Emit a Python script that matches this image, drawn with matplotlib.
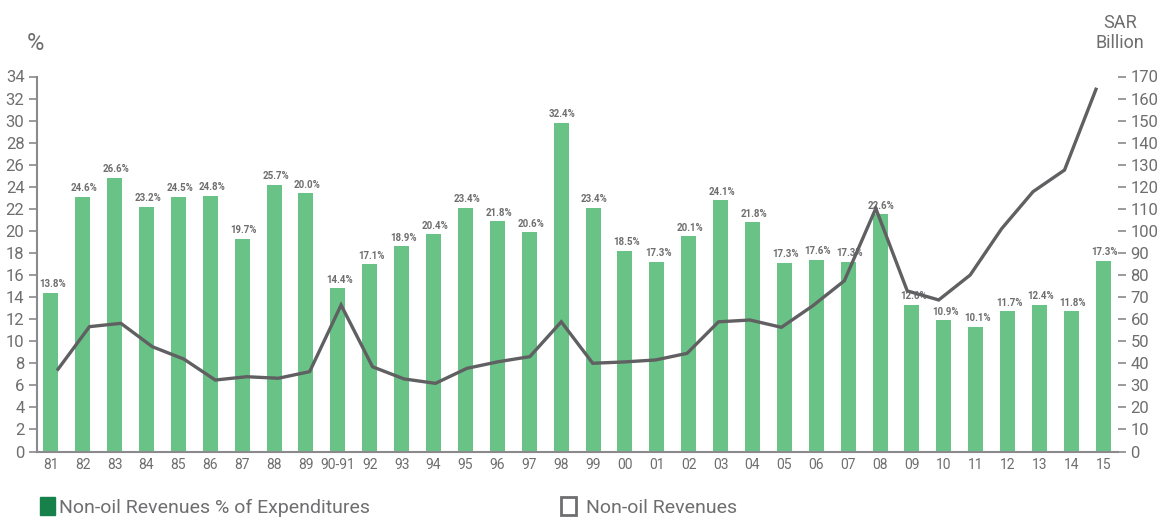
import matplotlib
matplotlib.use("Agg")
import matplotlib.pyplot as plt
from matplotlib.patches import Patch
import numpy as np

years = ["81", "82", "83", "84", "85", "86", "87", "88", "89", "90-91", "92", "93", "94",
         "95", "96", "97", "98", "99", "00", "01", "02", "03", "04", "05", "06", "07",
         "08", "09", "10", "11", "12", "13", "14", "15"]
bar_pct = [14.4, 23.1, 24.8, 22.2, 23.1, 23.2, 19.3, 24.2, 23.4, 14.8, 17.0, 18.6, 19.7,
           22.1, 20.9, 19.9, 29.8, 22.1, 18.2, 17.2, 19.5, 22.8, 20.8, 17.1, 17.4, 17.2,
           21.5, 13.3, 11.9, 11.3, 12.7, 13.3, 12.7, 17.3]
bar_labels = ["13.8%", "24.6%", "26.6%", "23.2%", "24.5%", "24.8%", "19.7%", "25.7%", "20.0%",
              "14.4%", "17.1%", "18.9%", "20.4%", "23.4%", "21.8%", "20.6%", "32.4%", "23.4%",
              "18.5%", "17.3%", "20.1%", "24.1%", "21.8%", "17.3%", "17.6%", "17.3%", "22.6%",
              "12.6%", "10.9%", "10.1%", "11.7%", "12.4%", "11.8%", "17.3%"]
nonoil_rev = [37.3, 56.6, 58.1, 47.5, 41.9, 32.4, 33.9, 33.2, 36.2, 66.4, 38.4, 32.9, 30.9,
              37.7, 40.7, 43.0, 58.8, 40.0, 40.6, 41.5, 44.5, 58.8, 59.6, 56.3, 66.1, 77.4,
              110.2, 72.8, 68.7, 80.0, 101.0, 117.8, 127.6, 164.2]

FONT = ["Roboto", "DejaVu Sans"]
plt.rcParams["font.family"] = FONT
GRAY = "#6e6e70"
AXC = "#8a8a8c"
BAR = "#69c387"
LINE = "#606062"

fig = plt.figure(figsize=(11.62, 5.21), dpi=100)
rect = [37 / 1162, 1 - 451.5 / 521, (1118 - 37) / 1162, (451.5 - 76.5) / 521]
ax = fig.add_axes(rect)
x = np.arange(len(years))
ax.bar(x, bar_pct, width=0.47, color=BAR, zorder=2)
ax.set_xlim(-0.433, len(years) - 1 + 0.46)
ax.set_ylim(0, 34)
ax.set_yticks(np.arange(0, 35, 2))
ax.set_xticks(x)
ax.set_xticklabels(years)
ax.tick_params(axis="x", length=0, pad=5, labelsize=10, labelcolor=GRAY)
ax.tick_params(axis="y", length=6, width=1.2, color=AXC, pad=3, labelsize=12, labelcolor=GRAY)
for s in ["top", "right"]:
    ax.spines[s].set_visible(False)
for s in ["left", "bottom"]:
    ax.spines[s].set_color(AXC)
    ax.spines[s].set_linewidth(1.5)

for xi, h, lab in zip(x, bar_pct, bar_labels):
    ax.annotate(lab, (xi, h), xytext=(1, 2.5), textcoords="offset points",
                ha="center", va="bottom", fontsize=7, fontweight="bold", color=GRAY, zorder=5)

# line axis (slightly different horizontal scale in the original)
ax2 = fig.add_axes(rect, frameon=False)
ax2.plot(x, nonoil_rev, color=LINE, lw=2.4, zorder=4, solid_joinstyle="miter")
ax2.set_xlim(-0.668, 33.70)
ax2.set_ylim(0, 170)
ax2.set_xticks([])
ax2.yaxis.tick_right()
ax2.set_yticks(np.arange(0, 171, 10))
ax2.tick_params(axis="y", length=6, width=1.2, color=AXC, pad=3, labelsize=12, labelcolor=GRAY)
ax2.spines["right"].set_visible(True)
ax2.spines["right"].set_color(AXC)
ax2.spines["right"].set_linewidth(1.5)

fig.text(35 / 1162, 1 - 43 / 521, "%", fontsize=17, color=GRAY, ha="center", va="center")
fig.text(1120 / 1162, 1 - 33 / 521, "SAR\nBillion", fontsize=13, color=GRAY, ha="center",
         va="center", linespacing=1.2)

h1 = Patch(facecolor="#17814a", edgecolor="#17814a")
h2 = Patch(facecolor="white", edgecolor=GRAY, linewidth=2)
fig.legend([h1], ["Non-oil Revenues % of Expenditures"], loc="center left",
           bbox_to_anchor=(22 / 1162, 1 - 507 / 521), frameon=False, fontsize=14,
           labelcolor=GRAY, handlelength=0.8, handleheight=1.0, handletextpad=0.2)
fig.legend([h2], ["Non-oil Revenues"], loc="center left",
           bbox_to_anchor=(543 / 1162, 1 - 507 / 521), frameon=False, fontsize=14,
           labelcolor=GRAY, handlelength=0.8, handleheight=1.0, handletextpad=0.5)

fig.savefig("out.png", dpi=100)
